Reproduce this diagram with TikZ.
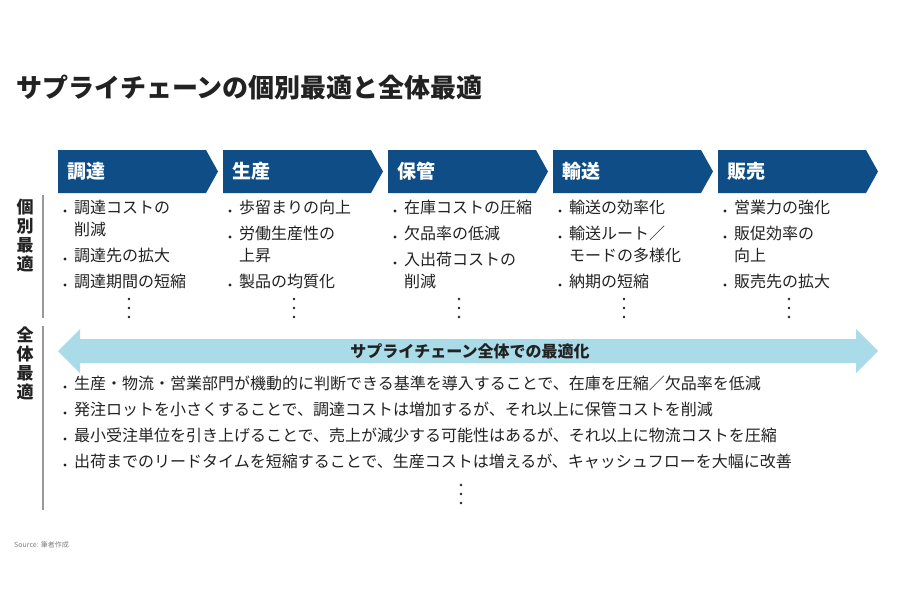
\documentclass[tikz,border=0pt]{standalone}
\usepackage{fontspec}
\setmainfont{Noto Sans CJK JP}
\begin{document}
\begin{tikzpicture}[x=1pt,y=-1pt,
  hdr/.style={fill=hdrblue},
  hdrtext/.style={anchor=west,text=white,font=\fontsize{19}{19}\selectfont\bfseries,inner sep=0},
  item/.style={anchor=north west,inner sep=0,align=left,font=\fontsize{16}{22}\selectfont,text=txt},
  vlab/.style={anchor=north,inner sep=0,align=center,font=\fontsize{17}{19}\selectfont\bfseries,text=txt},
  vline/.style={draw=gray!80,line width=1.2pt},
  dotc/.style={fill=txt,circle,inner sep=0,minimum size=2.6pt}]
\definecolor{hdrblue}{HTML}{0E4D85}
\definecolor{arrowblue}{HTML}{A9DCE8}
\definecolor{txt}{HTML}{222222}
\useasboundingbox (0,0) rectangle (900,600);
\fill[white] (0,0) rectangle (900,600);
\node[anchor=west,inner sep=0,font=\fontsize{26}{26}\selectfont\bfseries,text=txt] (title) at (16,88) {サプライチェーンの個別最適と全体最適};
\foreach \x/\t/\n in {58/調達/a,223/生産/b,388/保管/c,553/輸送/d,718/販売/e}{
  \fill[hdr] (\x,150) -- (\x+148,150) -- (\x+160,171.5) -- (\x+148,193) -- (\x,193) -- cycle;
  \node[hdrtext] (h\n) at (\x+9,171.5) {\t};
}
\draw[vline] (43,195) coordinate (l1a) -- (43,318) coordinate (l1b);
\draw[vline] (43,326) coordinate (l2a) -- (43,510) coordinate (l2b);
\node[vlab] (v1) at (25,199) {個\\別\\最\\適};
\node[vlab] (v2) at (25,327) {全\\体\\最\\適};
\newcommand{\bl}[4]{\node[dotc,minimum size=3.4pt] at (#1+3,#2+11) {};\node[item] (#4) at (#1+12,#2) {#3};}
\newcommand{\vd}[3]{\node[dotc] (#3a) at (#1,#2-9) {};\node[dotc] (#3b) at (#1,#2) {};\node[dotc] (#3c) at (#1,#2+9) {};}
\bl{62}{200}{調達コストの\\削減}{a1}
\bl{62}{248}{調達先の拡大}{a2}
\bl{62}{274}{調達期間の短縮}{a3}
\vd{129}{308}{ad}
\bl{227}{200}{歩留まりの向上}{b1}
\bl{227}{226}{労働生産性の\\上昇}{b2}
\bl{227}{274}{製品の均質化}{b3}
\vd{294}{308}{bd}
\bl{392}{200}{在庫コストの圧縮}{c1}
\bl{392}{226}{欠品率の低減}{c2}
\bl{392}{252}{入出荷コストの\\削減}{c3}
\vd{459}{308}{cd}
\bl{557}{200}{輸送の効率化}{d1}
\bl{557}{226}{輸送ルート／\\モードの多様化}{d2}
\bl{557}{274}{納期の短縮}{d3}
\vd{624}{308}{dd}
\bl{722}{200}{営業力の強化}{e1}
\bl{722}{226}{販促効率の\\向上}{e2}
\bl{722}{274}{販売先の拡大}{e3}
\vd{789}{308}{ed}
\fill[arrowblue] (58,351) -- (80,329) -- (80,339) -- (856,339) -- (856,329) -- (878,351) -- (856,373) -- (856,363) -- (80,363) -- (80,373) -- cycle;
\node[inner sep=0,font=\fontsize{16}{16}\selectfont\bfseries,text=txt] (arr) at (470,351) {サプライチェーン全体での最適化};
\bl{62}{376}{生産・物流・営業部門が機動的に判断できる基準を導入することで、在庫を圧縮／欠品率を低減}{f1}
\bl{62}{402}{発注ロットを小さくすることで、調達コストは増加するが、それ以上に保管コストを削減}{f2}
\bl{62}{428}{最小受注単位を引き上げることで、売上が減少する可能性はあるが、それ以上に物流コストを圧縮}{f3}
\bl{62}{454}{出荷までのリードタイムを短縮することで、生産コストは増えるが、キャッシュフローを大幅に改善}{f4}
\vd{461}{494}{fd}
\node[anchor=west,inner sep=0,font=\fontsize{7}{7}\selectfont,text=gray] (src) at (14,545) {Source: 筆者作成};
\end{tikzpicture}
\end{document}
